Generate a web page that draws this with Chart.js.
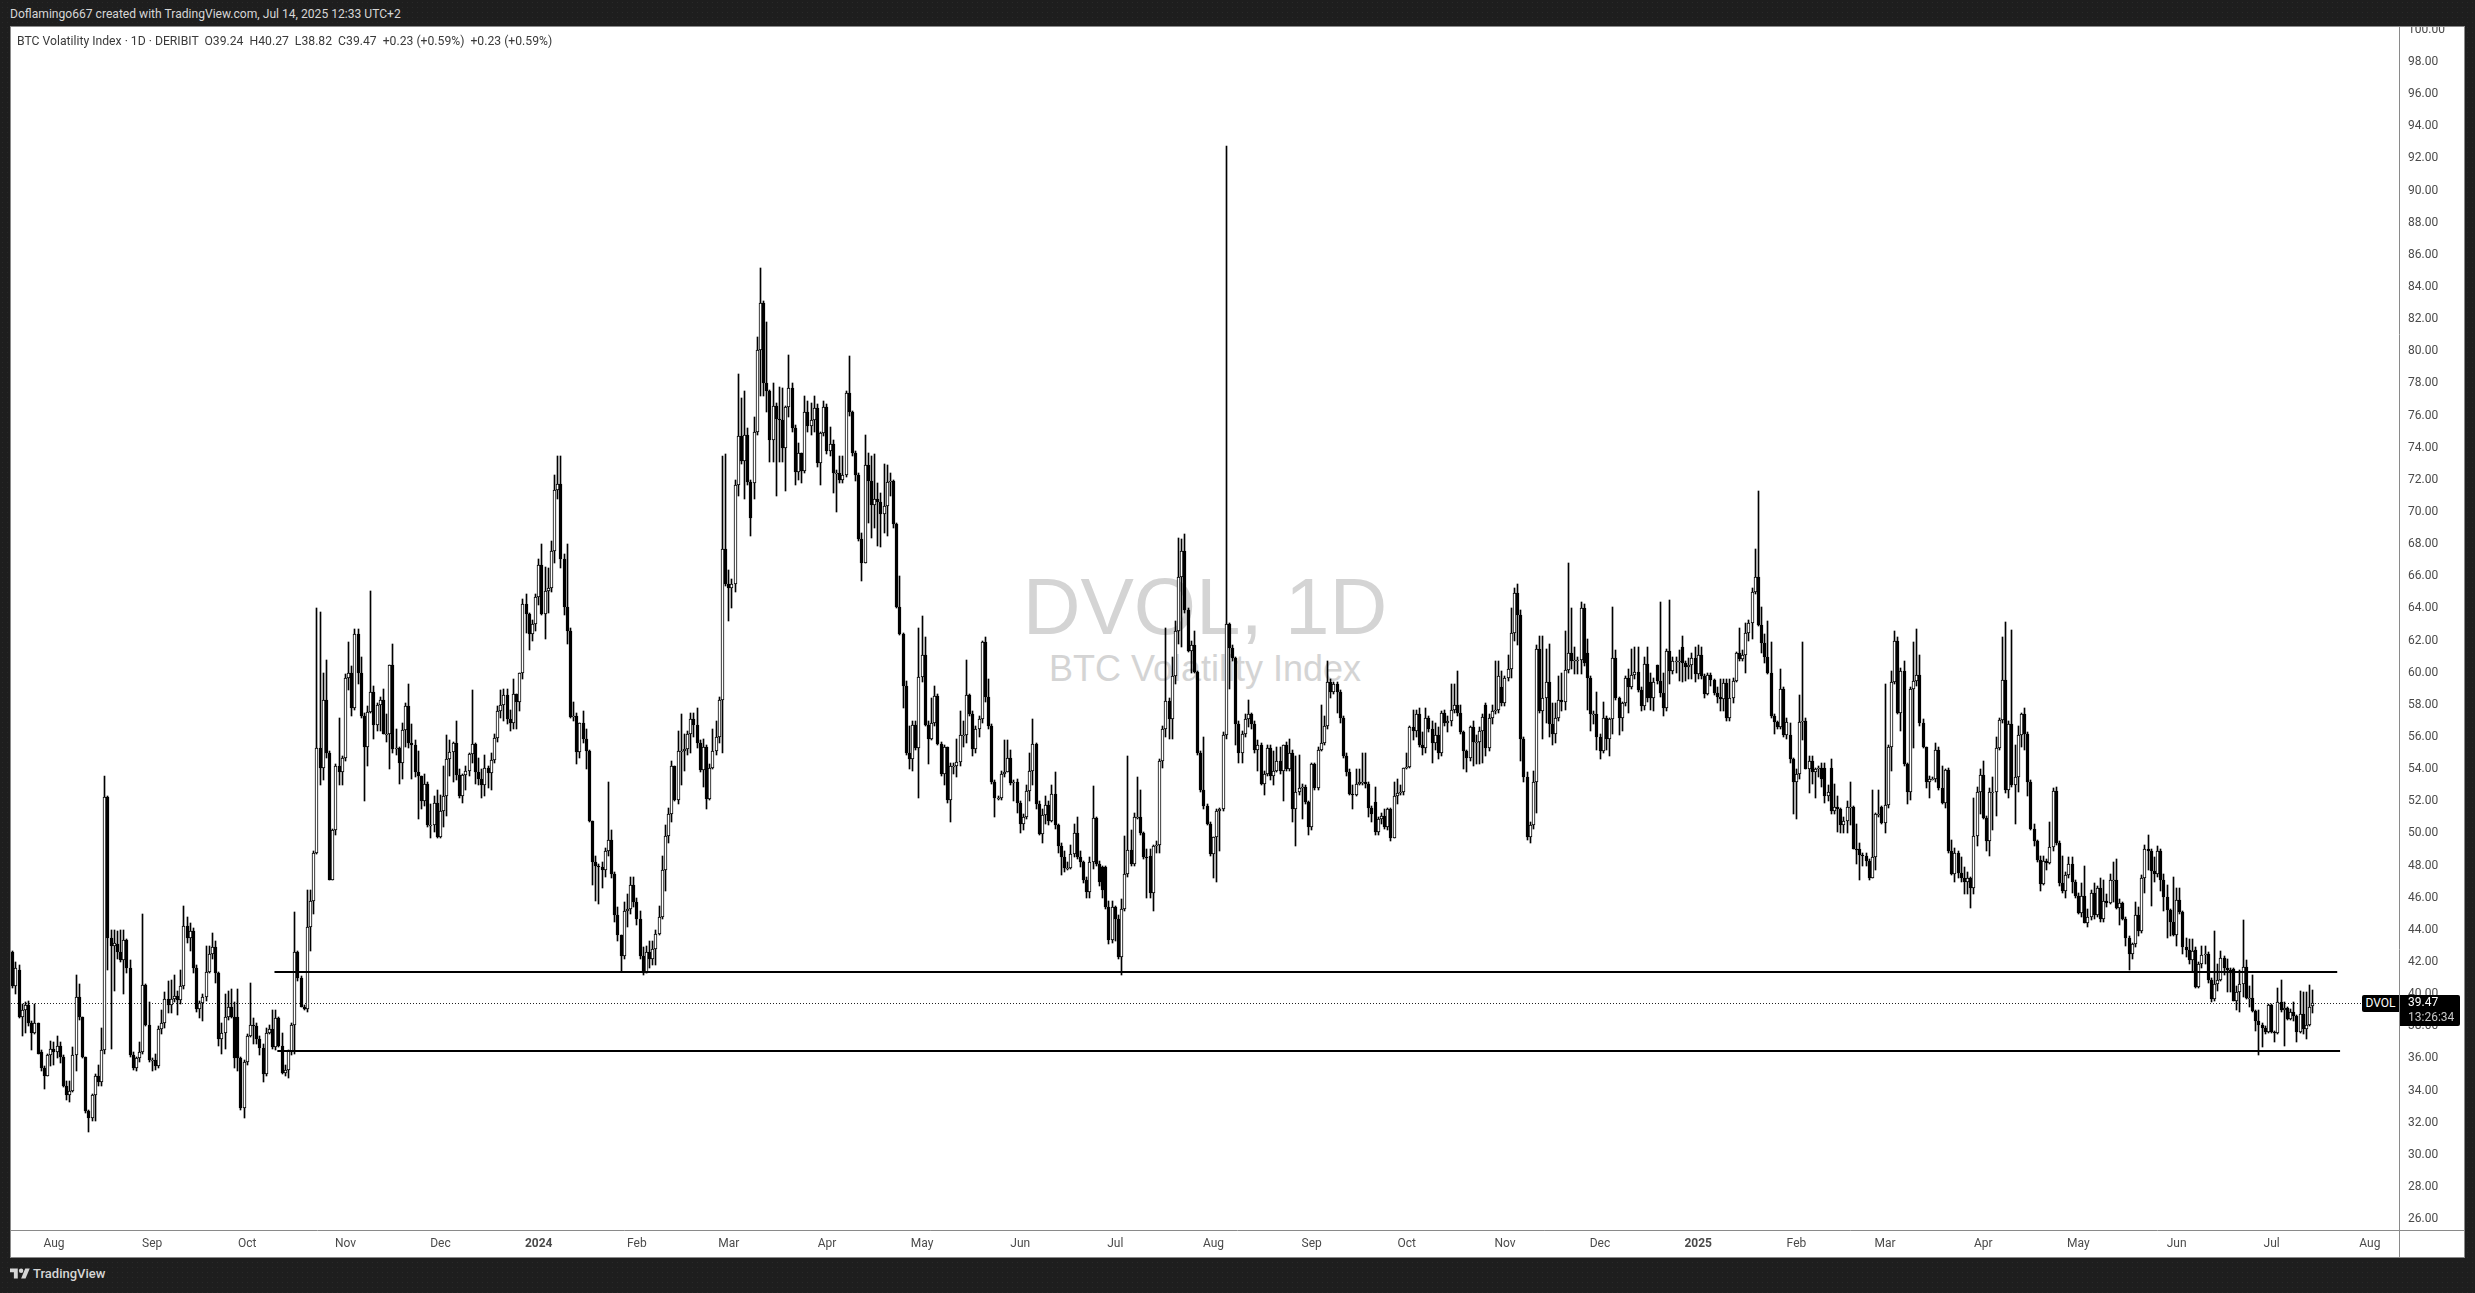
<!DOCTYPE html>
<html>
<head>
<meta charset="utf-8">
<title>BTC Volatility Index</title>
<script src="https://cdn.jsdelivr.net/npm/chart.js@4/dist/chart.umd.min.js"></script>
<style>
  html, body { margin: 0; height: 100%; }
  body {
    width: 2475px; height: 1293px; overflow: hidden; position: relative;
    background-color: #1e1e1e;
    background-image: radial-gradient(circle, #292929 0.6px, transparent 0.7px);
    background-size: 5px 5px;
    font-family: Roboto, sans-serif;
  }
  body > * { position: absolute; }
  #panel { left: 10px; top: 26px; width: 2455px; height: 1232px; box-sizing: border-box; background: #fff; border: 1px solid #8a8a8a; }
  #wm1, #wm2 { left: 11px; width: 2388px; text-align: center; font-family: "Liberation Sans", sans-serif; color: #d4d4d4; white-space: pre; }
  #wm1 { top: 562px; font-size: 80px; line-height: 90px; }
  #wm2 { top: 647px; font-size: 36px; line-height: 44px; }
  #chart { left: 11px; top: 27px; }
  #created { left: 10px; top: 6px; font-size: 12.1px; line-height: 16px; color: #d6d6d6; white-space: pre; }
  #legend { left: 17px; top: 33px; font-size: 12.2px; line-height: 16px; color: #3a3a3a; white-space: pre; }
  #sym { left: 2362px; top: 995px; width: 37px; height: 17px; background: #000; color: #fff; font-size: 12px; line-height: 17px; text-align: center; border-radius: 2px 0 0 2px; }
  #last { left: 2400px; top: 995px; width: 60px; height: 31px; background: #000; border-radius: 0 2px 2px 0; font-size: 12px; color: #fff; line-height: 15px; }
  #last div { padding-left: 8px; }
  #last div + div { color: #c8c8c8; }
  #logo { left: 10px; top: 1266px; width: 20px; height: 16px; fill: #d6d6d6; }
  #brand { left: 33px; top: 1265px; font-size: 13px; font-weight: 500; line-height: 18px; color: #d6d6d6; }
</style>
</head>
<body>
<div id="panel"></div>
<div id="wm1">DVOL, 1D</div>
<div id="wm2">BTC Volatility Index</div>
<canvas id="chart" width="2453" height="1230"></canvas>
<div id="created">Doflamingo667 created with TradingView.com, Jul 14, 2025 12:33 UTC+2</div>
<div id="legend">BTC Volatility Index · 1D · DERIBIT  O39.24  H40.27  L38.82  C39.47  +0.23 (+0.59%)  +0.23 (+0.59%)</div>
<div id="sym">DVOL</div>
<div id="last"><div>39.47</div><div>13:26:34</div></div>
<svg id="logo" viewBox="0 0 36 28"><path d="M14 22H7V11H0V4h14v18z"/><circle cx="20" cy="8" r="4"/><path d="M28 22h-8l7.5-18h8L28 22z"/></svg>
<div id="brand">TradingView</div>

<script>
// daily candles, index 0 = 2023-07-19, last = 2025-07-14
const opens = [
42.6,40.5,41.5,38.6,39.0,39.3,38.2,37.6,38.2,36.4,
35.4,34.9,36.2,36.6,36.4,36.75,36.1,34.3,33.75,33.95,
36.2,39.8,38.6,36.1,32.7,32.3,33.7,34.9,34.5,36.5,
52.25,43.5,43.0,43.1,42.6,42.1,43.35,41.6,36.2,35.4,
36.0,36.4,40.55,38.1,35.9,35.9,35.5,37.8,38.2,39.7,
39.35,39.7,39.9,39.65,40.5,44.25,43.5,43.95,41.65,39.1,
39.45,39.8,41.4,42.5,42.95,41.3,37.2,37.6,38.6,39.2,
38.6,38.6,36.0,32.9,35.8,37.4,38.1,38.0,37.2,36.65,
35.0,37.6,37.8,36.7,38.5,36.8,35.1,35.3,36.45,38.1,
42.6,41.0,39.2,39.1,44.2,45.8,48.8,55.3,54.05,58.3,
55.0,47.1,50.2,54.2,53.85,54.7,59.7,60.0,57.8,62.4,
60.0,57.3,55.4,57.55,58.8,56.75,58.0,58.3,56.2,56.2,
60.45,55.25,55.3,54.35,56.45,57.9,55.65,55.5,53.8,53.55,
52.0,53.1,50.5,50.5,51.9,49.75,51.4,52.3,54.65,55.05,
55.65,53.65,52.35,53.65,53.9,54.95,55.55,53.8,53.4,53.0,
54.1,53.75,54.55,55.95,57.6,58.0,58.6,57.1,56.9,58.65,
58.2,59.95,64.3,63.65,62.4,63.05,64.7,66.7,63.65,65.1,
65.3,67.6,71.35,71.75,67.1,64.1,62.6,57.25,57.3,55.05,
56.85,55.9,55.1,50.75,48.2,48.0,47.9,47.75,48.9,49.6,
47.5,44.9,43.65,42.35,45.15,45.3,46.8,45.7,44.65,42.35,
41.3,42.65,42.2,42.8,43.75,44.8,47.75,49.85,51.2,54.2,
52.1,55.1,55.15,55.25,56.2,57.1,56.75,55.6,53.95,55.4,
52.15,54.1,55.1,56.0,58.3,67.7,65.5,65.3,65.5,71.7,
74.75,73.15,74.8,71.85,71.8,75.0,80.05,83.0,78.05,77.5,
74.5,76.6,75.8,75.75,74.0,76.55,77.7,75.2,72.5,73.65,
72.55,76.2,75.35,75.7,76.5,73.05,74.9,76.55,73.8,74.2,
72.4,72.4,72.0,72.3,77.4,76.2,73.65,72.3,68.35,66.85,
72.9,71.95,70.45,70.8,70.6,69.9,70.35,71.85,71.95,69.25,
64.1,62.4,59.2,55.0,54.6,56.75,55.3,59.75,61.1,56.75,
55.9,56.85,58.55,55.55,53.7,55.35,52.1,54.2,54.2,54.45,
56.1,56.15,58.6,57.4,55.25,56.5,57.1,61.9,58.5,56.7,
53.2,52.2,52.2,53.7,53.85,54.7,53.15,53.2,51.9,50.6,
51.0,52.65,53.9,55.55,51.8,49.95,51.15,51.75,50.8,52.45,
50.5,49.2,48.5,47.85,47.85,48.7,50.0,48.55,48.2,47.1,
46.35,48.2,50.95,48.1,47.9,47.9,45.4,43.35,45.4,44.65,
42.3,45.3,47.45,48.95,48.1,51.0,51.0,50.0,48.55,48.6,
46.3,49.2,49.3,54.5,56.5,58.25,57.1,59.8,62.6,65.95,
67.6,63.9,61.35,61.7,60.05,55.0,52.7,51.7,50.6,48.7,
49.75,51.4,51.5,56.1,63.0,61.55,60.9,56.8,55.0,56.2,
57.1,57.4,56.8,55.2,55.5,53.05,53.7,55.3,53.6,53.9,
54.5,53.9,55.5,54.0,55.0,51.5,52.6,52.8,52.9,51.95,
50.4,54.3,52.85,55.2,55.65,56.7,59.45,58.8,59.3,58.8,
57.2,54.8,53.85,52.45,52.4,53.1,53.2,53.2,53.1,51.55,
51.95,50.1,50.9,51.1,50.4,51.5,49.7,52.3,52.5,52.55,
54.05,54.15,56.6,56.35,57.45,55.5,55.3,57.2,56.5,55.65,
56.1,55.0,57.5,56.85,57.0,57.7,58.0,57.5,56.3,55.1,
54.7,56.6,55.7,55.7,56.4,58.0,55.3,57.2,57.6,57.7,
59.1,58.1,59.7,60.2,62.45,64.95,63.6,55.9,53.5,49.8,
50.5,53.2,61.45,57.6,58.45,59.4,56.8,56.2,57.15,58.3,
58.2,60.15,61.25,60.7,60.8,60.8,64.05,61.2,59.7,57.45,
57.45,56.0,55.1,57.15,55.9,57.1,60.9,58.4,57.15,58.1,
59.7,59.1,59.85,60.05,58.9,57.95,60.55,59.4,58.4,60.45,
59.5,58.75,57.8,61.35,60.1,60.75,60.75,61.6,60.6,60.35,
60.45,60.9,59.9,61.1,59.8,58.65,59.85,59.55,58.75,58.5,
58.35,59.35,57.15,58.45,59.5,61.2,60.85,61.1,62.5,63.1,
65.0,65.95,62.95,61.85,61.0,60.0,57.3,56.95,56.6,59.0,
56.15,56.1,54.6,53.2,53.7,56.95,57.0,54.0,54.5,53.85,
54.0,54.1,54.1,52.35,54.1,51.4,51.65,51.5,50.5,50.75,
51.65,51.65,49.05,49.0,48.65,48.6,48.3,47.2,48.5,51.2,
51.65,50.65,51.75,55.4,59.4,62.0,57.5,60.1,54.3,52.6,
59.0,59.5,59.85,56.85,55.35,53.2,53.4,53.4,55.2,52.8,
51.9,53.95,48.9,47.5,48.8,47.55,47.25,46.95,47.2,46.6,
49.85,52.6,53.65,50.95,49.5,52.55,52.6,55.3,57.05,59.55,
52.7,56.8,53.0,53.5,56.1,57.4,56.2,53.2,50.3,49.5,
48.35,46.85,48.3,48.15,49.15,52.65,49.4,46.9,46.4,47.4,
48.1,47.0,46.1,45.05,46.1,44.45,44.8,46.3,44.9,46.6,
44.7,45.8,45.65,47.1,47.1,45.35,45.65,44.7,43.5,42.5,
43.1,44.9,43.95,47.25,49.05,48.9,47.65,47.45,48.9,47.1,
46.05,45.25,44.5,43.65,45.85,45.1,42.9,42.75,42.1,42.75,
40.45,41.9,42.45,42.5,40.85,39.7,40.65,40.9,42.25,41.65,
41.5,41.55,39.6,40.15,40.6,41.7,39.75,39.75,38.95,38.35,
38.1,37.9,37.65,39.3,37.65,37.55,39.5,39.0,39.15,38.45,
38.9,38.65,37.65,38.75,37.8,38.1,39.24
];
const highs = [
42.7,42.0,41.8,39.4,39.5,39.6,38.3,39.4,38.2,36.5,
35.5,36.3,37.1,37.0,37.4,37.0,36.2,34.6,34.6,36.7,
41.2,40.6,38.6,36.1,32.8,33.8,35.0,35.6,37.9,53.55,
52.3,44.0,44.0,43.9,44.0,44.0,43.4,42.1,36.4,36.1,
37.0,45.0,40.6,39.5,36.0,36.3,38.0,39.0,40.1,40.8,
40.9,41.2,40.2,41.5,45.5,44.8,44.4,44.1,41.8,39.6,
40.0,43.0,43.0,43.8,43.3,41.4,38.2,40.0,40.2,40.3,
39.5,40.3,36.1,35.9,37.5,40.7,38.5,38.2,37.4,36.9,
37.9,38.1,39.0,39.0,38.6,37.6,35.6,36.5,38.2,45.1,
42.7,41.1,39.3,46.5,46.5,48.9,64.0,63.8,59.95,60.8,
55.1,50.3,54.3,57.2,54.8,59.9,61.9,60.4,62.7,62.7,
61.0,57.5,57.9,65.1,59.2,58.1,58.5,59.0,57.4,60.5,
61.8,56.5,55.4,56.9,58.1,59.3,56.8,55.8,55.1,53.6,
53.7,53.2,51.8,52.3,52.7,52.4,54.2,56.1,55.8,55.7,
57.0,54.0,53.7,54.2,55.0,58.9,55.6,54.7,54.0,54.9,
54.2,55.0,56.2,57.9,58.9,59.0,59.0,57.7,59.6,58.7,
60.0,64.6,64.9,63.7,63.3,64.9,67.1,68.0,66.6,66.5,
68.2,72.3,73.5,73.5,67.4,68.0,62.8,58.2,57.5,56.9,
57.6,56.5,55.2,50.8,48.6,48.1,48.2,49.1,53.2,50.2,
47.6,45.4,43.7,45.7,46.2,47.3,47.3,46.0,45.2,42.9,
43.0,43.3,43.3,44.0,45.5,48.6,50.5,51.6,54.5,54.2,
56.4,57.4,56.2,56.4,57.5,57.5,57.8,55.8,55.9,55.5,
54.3,56.5,57.0,58.5,73.5,73.6,66.4,65.8,72.0,78.6,
77.1,77.5,75.2,72.0,75.9,80.9,85.2,83.1,81.8,77.6,
78.0,76.8,77.8,77.7,76.6,79.75,78.0,75.4,74.3,73.7,
77.2,76.9,76.8,77.2,76.7,75.0,76.9,76.7,75.3,74.5,
72.6,73.5,73.5,77.5,79.7,76.3,73.8,72.4,68.7,74.8,
73.7,73.5,73.6,71.8,71.2,73.0,72.9,72.4,72.0,69.3,
66.0,62.5,59.5,56.7,57.0,57.0,62.8,63.5,62.2,57.0,
58.4,59.2,58.7,55.7,55.5,55.4,54.4,54.4,55.9,57.6,
57.0,60.8,58.7,57.6,56.7,57.3,62.0,62.2,59.6,56.8,
53.3,52.3,53.9,55.8,55.8,55.2,53.3,53.4,52.0,51.2,
53.0,55.0,57.1,55.6,52.0,51.5,52.3,52.0,53.0,53.8,
50.6,49.4,48.9,48.2,49.3,50.6,51.0,48.9,48.3,47.3,
48.5,52.95,51.0,48.3,48.0,48.0,45.8,45.8,45.5,44.9,
45.9,49.85,54.8,50.2,51.3,53.5,52.7,50.1,49.0,49.0,
49.3,49.5,54.6,56.7,62.8,58.4,61.0,63.2,68.4,68.3,
68.6,64.0,62.0,62.6,60.1,55.1,56.0,51.8,50.7,49.8,
51.5,51.6,56.3,92.77,63.1,61.7,61.0,57.0,56.4,57.4,
58.3,57.5,57.0,55.8,55.6,53.9,55.5,55.5,55.1,55.4,
55.4,55.5,55.7,55.9,55.2,54.8,54.9,53.1,53.0,52.0,
54.4,54.4,55.4,58.0,57.3,60.7,59.6,59.4,59.4,58.9,
57.3,55.0,54.0,53.0,54.0,54.0,55.0,55.0,53.2,51.7,
52.9,51.0,51.3,51.5,51.6,51.6,53.2,53.4,53.0,54.1,
55.0,56.7,57.7,57.7,57.8,56.3,57.8,57.3,57.0,56.9,
56.6,57.6,57.7,57.3,59.3,59.3,60.1,58.0,56.4,55.2,
56.7,57.0,56.1,56.6,57.4,58.1,57.4,58.0,60.7,60.7,
60.1,59.8,61.1,64.0,65.3,65.5,63.9,56.0,53.8,50.7,
53.9,61.7,62.3,62.3,61.5,61.8,58.1,58.1,59.8,60.0,
62.6,66.8,64.0,61.6,61.0,64.4,64.3,62.1,59.8,57.6,
58.8,56.2,58.2,57.3,57.2,64.1,61.4,58.5,58.2,59.8,
60.2,61.5,61.6,61.6,59.1,61.0,61.6,60.0,59.7,60.5,
64.4,60.0,61.5,64.55,61.0,61.0,61.4,62.3,60.7,60.9,
61.2,61.6,61.7,61.6,59.9,60.0,60.0,59.6,59.1,59.6,
59.6,59.6,59.6,59.7,61.3,62.8,61.4,63.1,63.3,65.3,
67.7,71.3,64.1,62.4,63.2,61.9,57.4,57.0,60.2,59.1,
57.2,56.9,54.7,54.0,58.6,61.9,57.2,54.8,54.8,54.1,
54.2,54.4,54.4,53.0,54.6,53.1,52.3,51.6,51.0,52.0,
53.2,51.7,50.6,49.4,48.8,48.8,48.4,52.7,51.3,52.7,
51.7,59.3,55.5,60.1,62.6,62.2,60.3,60.7,54.4,59.1,
61.9,62.7,61.1,57.1,55.4,53.6,53.5,55.6,55.4,54.2,
54.0,54.1,49.6,49.1,48.9,48.5,47.9,47.6,47.3,52.2,
52.9,54.0,54.5,51.1,52.8,53.5,56.0,57.2,62.2,63.15,
57.0,62.65,55.5,56.7,57.5,57.8,56.3,53.3,50.6,49.6,
48.6,48.6,48.4,50.7,52.8,52.9,49.5,48.6,47.6,48.5,
48.5,47.1,46.3,46.9,48.0,45.3,46.5,46.9,46.7,47.2,
47.1,46.2,47.5,48.2,48.4,45.9,45.7,44.8,43.6,43.2,
45.7,45.4,47.4,49.3,49.9,49.0,48.5,49.2,49.0,47.5,
46.8,45.3,47.3,46.6,46.6,45.2,43.5,43.4,43.4,42.9,
42.0,43.0,43.0,42.6,41.0,43.9,41.9,42.7,42.4,42.2,
41.6,41.6,40.5,41.5,44.6,42.1,40.5,41.2,39.0,39.0,
38.2,38.0,39.4,39.4,37.7,40.4,40.85,39.5,39.2,39.1,
39.5,38.7,40.2,40.1,40.1,40.55,40.27
];
const lows = [
40.4,40.0,38.5,37.4,37.6,38.0,36.5,37.5,36.3,35.2,
34.1,34.9,35.5,35.6,36.0,35.7,34.2,33.4,33.3,33.9,
35.2,38.4,36.0,32.6,31.4,32.1,32.1,34.3,34.3,36.3,
41.5,36.6,40.2,42.2,42.0,40.0,41.3,36.1,35.3,35.2,
35.8,36.3,38.0,35.8,35.2,35.3,35.4,37.5,37.9,38.8,
38.8,39.5,38.7,39.4,40.3,43.2,42.7,41.3,38.9,38.5,
38.3,39.6,41.3,42.2,40.7,36.8,36.3,36.6,38.4,38.5,
35.4,35.2,32.8,32.3,35.6,37.3,36.9,36.9,36.2,34.5,
34.9,37.5,36.6,36.5,36.7,35.0,34.9,34.8,36.2,36.3,
40.8,39.2,39.0,38.9,42.7,45.0,48.7,53.0,53.3,54.7,
47.1,47.1,49.9,53.0,53.0,54.5,58.9,57.3,57.7,59.3,
57.2,52.0,54.2,57.5,55.9,56.4,56.4,56.2,55.7,54.0,
55.0,54.9,53.1,53.4,55.4,55.3,53.4,53.5,50.9,51.5,
51.7,50.4,49.7,50.1,49.7,49.7,50.4,51.1,53.6,53.2,
53.3,52.2,51.9,52.7,53.6,54.4,53.1,53.0,52.2,52.3,
52.8,52.7,54.4,55.7,57.2,57.0,56.8,56.4,56.5,56.5,
57.6,59.6,62.5,61.4,62.0,62.6,64.2,63.6,62.1,63.7,
65.0,66.8,70.8,66.5,63.6,61.8,57.2,57.0,54.3,54.7,
55.6,54.0,50.7,46.8,45.8,45.6,46.6,47.3,48.6,47.2,
44.5,43.3,41.4,42.2,44.2,45.0,45.4,44.3,42.2,41.2,
41.3,41.6,41.8,41.8,43.7,44.7,46.4,49.4,50.7,52.0,
51.8,53.0,53.9,54.9,55.0,56.0,55.3,53.8,52.9,51.5,
52.1,54.0,54.9,55.6,55.0,65.4,63.2,64.0,65.0,71.0,
73.0,70.8,71.7,68.5,70.8,74.8,77.2,77.2,76.2,73.1,
73.1,71.0,73.1,73.1,71.3,75.9,75.0,71.7,72.0,71.8,
72.4,75.0,74.8,75.0,72.8,71.7,74.7,73.6,73.5,71.2,
70.0,71.8,71.8,72.2,76.0,73.5,71.9,68.2,65.7,66.8,
69.3,68.4,69.0,67.9,67.8,68.7,68.5,71.0,69.0,64.0,
62.35,57.8,54.9,54.0,53.9,55.2,52.2,59.4,56.7,54.3,
55.8,56.7,55.5,53.6,53.0,51.9,50.7,53.7,53.5,54.2,
55.4,55.6,57.3,54.8,55.0,56.0,56.9,58.2,56.5,53.1,
51.0,52.1,52.1,53.5,53.8,53.0,52.0,51.3,50.0,50.2,
50.9,52.0,53.0,51.5,49.9,49.4,50.6,50.5,50.7,50.3,
48.8,47.4,47.6,47.7,47.8,48.5,48.4,47.9,46.9,46.0,
46.0,47.8,48.0,46.7,46.0,45.3,43.1,43.2,43.3,42.2,
41.2,45.2,47.3,48.0,48.0,50.9,49.9,48.4,46.0,46.0,
45.2,48.8,48.8,54.1,56.0,55.9,55.9,59.3,61.8,61.6,
63.7,61.3,60.0,60.0,54.9,52.6,51.5,50.5,48.6,47.2,
47.0,48.9,51.4,55.9,59.0,60.7,55.5,54.4,54.4,56.0,
56.6,56.5,55.0,53.9,53.0,52.4,53.6,53.3,53.0,53.8,
53.7,52.0,53.9,53.9,50.7,49.2,52.4,50.9,51.8,49.9,
50.2,52.7,52.7,55.1,55.5,56.5,58.4,58.7,57.5,56.9,
54.7,53.6,52.4,51.5,52.3,53.0,53.0,52.8,51.0,50.7,
49.9,49.9,50.6,50.3,50.2,49.5,49.7,51.8,52.4,52.4,
54.0,54.1,55.8,56.0,55.4,54.9,55.0,56.3,54.4,55.2,
54.6,54.8,56.7,56.3,56.7,57.5,57.3,56.2,54.0,53.8,
54.5,54.2,54.3,54.3,54.4,54.8,55.1,56.8,57.4,57.5,
57.9,57.9,59.5,59.7,62.0,61.7,54.5,53.2,49.6,49.4,
50.3,51.3,57.5,55.9,56.9,56.0,55.5,55.6,57.0,57.6,
57.7,60.0,60.2,59.9,59.9,59.9,60.4,57.7,56.4,56.8,
55.2,54.6,55.0,55.2,54.8,56.2,58.3,56.1,56.4,57.9,
57.5,59.0,59.6,58.8,57.6,57.7,58.2,57.7,57.6,59.3,
58.5,57.3,57.6,59.3,59.9,60.0,59.5,59.4,59.5,59.6,
59.6,59.4,59.6,59.6,58.4,58.6,59.2,58.6,58.1,57.6,
57.6,57.0,57.0,58.1,59.4,60.7,60.7,60.0,62.0,62.1,
64.9,62.9,61.2,60.6,59.9,57.2,56.2,56.5,56.5,56.0,
55.9,54.4,51.2,50.9,53.4,55.8,54.0,52.5,53.1,52.2,
53.5,52.9,51.9,52.0,51.2,51.2,50.1,50.0,50.0,50.0,
50.5,49.0,48.1,47.1,48.0,48.0,47.1,47.2,47.7,51.0,
50.6,50.0,51.6,53.9,59.3,57.4,56.4,54.2,51.8,52.1,
55.3,59.2,56.7,55.3,52.8,52.2,53.3,53.2,52.7,51.8,
51.6,48.8,47.4,47.0,47.2,47.0,46.2,46.2,45.35,46.2,
49.2,51.2,50.9,48.9,48.6,50.2,51.1,55.2,56.9,52.5,
52.2,52.9,50.6,52.6,55.4,55.2,52.3,50.2,49.2,48.2,
46.4,46.8,47.7,48.1,48.9,49.3,46.7,46.3,46.0,47.2,
46.3,46.0,45.0,44.8,44.4,44.2,44.6,44.7,44.8,44.5,
44.5,45.4,45.6,45.7,45.3,44.3,44.6,43.0,41.5,42.2,
42.9,43.6,43.8,46.3,47.7,45.5,47.0,47.3,46.4,45.2,
43.5,43.6,43.6,43.0,45.0,42.5,42.3,41.9,41.4,40.4,
40.4,41.6,41.9,40.7,39.5,39.6,40.2,40.8,41.2,40.1,
40.1,39.55,39.0,38.9,39.8,39.7,39.2,38.9,37.7,36.2,
36.7,37.5,37.6,37.6,37.0,37.5,38.9,36.8,38.4,38.4,
38.3,37.0,37.6,37.5,37.2,38.0,38.82
];
const closes = [
40.5,41.6,38.6,39.0,39.3,38.2,37.6,38.2,36.3,35.4,
34.9,36.2,36.6,36.4,36.75,36.1,34.3,33.75,33.95,36.2,
39.8,38.6,36.1,32.7,32.3,33.7,34.9,34.5,36.5,52.25,
43.5,43.0,43.15,42.6,42.1,43.35,41.6,36.2,35.4,36.0,
36.4,40.55,38.1,35.9,35.9,35.5,37.8,38.2,39.7,39.35,
39.7,39.9,39.65,40.5,44.25,43.5,43.95,41.65,39.1,39.45,
39.8,41.4,42.5,42.95,41.3,37.2,37.6,38.6,39.2,38.6,
36.0,36.0,32.9,35.8,37.4,38.1,38.0,37.2,36.65,35.0,
37.6,37.8,36.7,38.5,36.8,35.1,35.3,36.45,38.1,42.6,
41.0,39.2,39.1,44.2,45.8,48.8,55.3,54.05,58.3,55.0,
47.1,50.2,54.2,53.85,54.7,59.7,60.0,57.8,62.4,60.0,
57.3,55.4,57.55,58.8,56.75,58.0,58.3,56.2,56.2,60.45,
55.25,55.3,54.35,56.45,57.9,55.65,55.5,53.8,53.55,52.0,
53.1,50.5,50.5,51.9,49.75,51.4,52.3,54.65,55.05,55.65,
53.65,52.35,53.65,53.9,54.95,55.55,53.8,53.4,53.0,54.1,
53.75,54.55,55.95,57.6,58.0,58.6,57.1,56.9,58.65,58.2,
59.95,64.3,63.65,62.4,63.05,64.7,66.7,63.65,65.1,65.3,
67.6,71.35,71.75,67.1,64.1,62.6,57.25,57.3,55.05,56.85,
55.9,55.1,50.75,48.2,48.0,47.9,47.75,48.9,49.6,47.5,
44.9,43.65,42.35,45.15,45.3,46.8,45.7,44.65,42.35,41.3,
42.65,42.2,42.8,43.75,44.8,47.75,49.85,51.2,54.2,52.1,
55.1,55.15,55.25,56.2,57.1,56.75,55.6,53.95,55.4,52.15,
54.1,55.1,56.0,58.3,67.7,65.5,65.3,65.5,71.7,74.75,
73.15,74.8,71.85,69.65,75.0,80.05,83.0,78.05,77.5,74.5,
76.6,75.8,75.75,74.0,76.55,77.7,75.2,72.5,73.65,72.55,
76.2,75.35,75.7,76.5,73.05,74.9,76.55,73.8,74.2,72.4,
72.4,72.0,72.3,77.4,76.2,73.65,72.3,68.35,66.85,72.9,
71.95,70.45,70.8,70.6,69.9,70.35,71.85,71.95,69.25,64.1,
62.4,59.2,55.0,54.6,56.75,55.3,59.75,61.1,56.75,55.9,
56.85,58.55,55.55,53.7,55.35,52.1,54.2,54.2,54.45,56.1,
56.15,58.6,57.4,55.25,56.5,57.1,61.9,58.5,56.7,53.2,
52.2,52.2,53.7,53.85,54.7,53.15,53.2,51.9,50.6,51.0,
52.65,53.9,55.55,51.8,49.95,51.15,51.75,50.8,52.45,50.5,
49.2,48.5,47.85,47.85,48.7,50.0,48.55,48.2,47.1,46.35,
48.2,50.95,48.1,47.0,46.5,45.4,43.35,45.4,44.65,42.3,
45.3,47.45,48.95,48.1,51.0,51.0,50.0,48.55,48.5,46.3,
49.2,49.3,54.5,56.5,58.25,57.1,59.8,62.6,65.95,67.6,
63.9,61.35,61.7,60.05,55.0,52.7,51.7,50.6,48.7,49.75,
51.4,51.5,56.1,63.0,61.55,60.9,56.8,55.0,56.2,57.1,
57.4,56.8,55.2,55.5,53.05,53.7,55.3,53.6,53.9,54.5,
53.9,55.5,54.0,55.0,51.5,52.6,52.8,52.9,51.95,50.4,
54.3,52.85,55.2,55.65,56.7,59.45,58.8,59.3,58.8,57.2,
54.8,53.85,52.45,52.4,53.1,53.2,53.2,53.1,51.55,51.2,
50.1,50.9,51.1,50.4,51.5,49.7,52.3,52.5,52.55,54.05,
54.15,56.6,56.35,57.45,55.5,55.3,57.2,56.5,55.65,56.1,
55.0,57.5,56.85,57.0,57.7,58.0,57.5,56.3,55.1,54.7,
56.6,55.7,55.7,56.4,57.25,55.3,57.2,57.6,57.7,59.8,
58.1,59.7,60.2,62.45,64.95,63.6,55.9,53.5,49.8,50.5,
53.2,61.45,57.6,58.45,59.4,56.8,56.2,57.15,58.3,58.2,
60.15,61.25,60.7,60.8,60.8,64.05,60.6,59.7,57.45,57.45,
56.0,55.1,57.15,55.9,57.1,60.9,58.4,57.15,58.1,59.7,
59.1,59.85,60.05,58.9,57.95,60.55,58.4,58.4,59.45,59.5,
58.75,57.8,61.35,60.1,60.75,60.75,60.75,60.6,60.35,60.45,
60.9,59.9,61.1,59.8,58.65,59.85,59.55,58.75,58.5,58.35,
59.35,57.15,58.45,59.5,61.2,60.85,61.1,62.5,63.1,65.0,
65.95,62.95,61.85,61.0,60.0,57.3,56.95,56.6,59.0,56.15,
56.95,54.6,53.2,53.7,56.95,57.0,54.0,54.5,53.85,54.0,
54.1,53.4,52.35,52.6,51.4,51.65,51.5,50.5,50.75,51.65,
51.65,49.05,49.0,48.65,48.6,48.3,47.2,48.5,51.2,51.2,
50.65,51.75,55.4,59.4,62.0,57.5,60.1,54.3,52.6,59.0,
59.5,59.85,56.85,55.35,53.2,53.4,53.4,55.2,52.8,51.9,
53.95,48.9,47.5,48.8,47.55,47.25,46.95,47.2,46.6,49.85,
52.6,53.65,50.95,49.5,52.55,52.6,55.3,57.05,59.55,52.7,
56.8,53.0,53.5,56.1,57.4,56.2,53.2,50.3,49.5,48.35,
46.85,48.3,48.15,49.15,52.65,49.4,46.9,46.4,47.4,48.1,
47.0,46.1,45.05,46.1,44.45,44.8,46.3,44.9,46.6,44.7,
45.8,45.65,47.1,47.1,45.35,45.65,44.7,43.5,42.5,43.1,
44.9,43.95,47.25,49.05,48.9,47.65,47.45,48.9,47.1,46.05,
45.25,44.5,43.65,45.85,45.1,42.9,42.75,42.1,42.7,40.45,
41.9,42.45,42.5,40.85,39.7,40.65,40.9,42.25,41.65,41.5,
41.3,39.6,40.15,40.6,41.7,39.75,39.75,38.95,38.35,38.1,
37.9,37.65,39.3,37.65,37.55,39.5,39.0,39.15,38.45,38.9,
38.65,37.65,38.75,37.8,38.1,39.2,39.47
];

if (![highs, lows, closes].every(a => a.length === opens.length)) {
  throw new Error('length mismatch ' + [opens.length, highs.length, lows.length, closes.length]);
}

const monthTicks = [13, 44, 74, 105, 135, 166, 197, 226, 257, 287, 318, 348, 379, 410, 440, 471, 501, 532, 563, 591, 622, 652, 683, 713, 744];
const monthLabels = ['Aug', 'Sep', 'Oct', 'Nov', 'Dec', '2024', 'Feb', 'Mar', 'Apr', 'May', 'Jun', 'Jul', 'Aug', 'Sep', 'Oct', 'Nov', 'Dec', '2025', 'Feb', 'Mar', 'Apr', 'May', 'Jun', 'Jul', 'Aug'];
const priceTicks = [26, 28, 30, 32, 34, 36, 38, 40, 42, 44, 46, 48, 50, 52, 54, 56, 58, 60, 62, 64, 66, 68, 70, 72, 74, 76, 78, 80, 82, 84, 86, 88, 90, 92, 94, 96, 98, 100];

const lastPrice = 39.47;
const upperLevel = 41.38;
const lowerLevel = 36.46;
const upperLevelRange = [82.6, 733.7];
const lowerLevelRange = [83.5, 734.6];

const xMin = -0.568;
const xMax = 753.2;

// keeps candles crisp, bars otherwise land on fractions of a pixel
const snapToPixels = {
  id: 'snapToPixels',
  afterDatasetsUpdate(chart) {
    chart.getSortedVisibleDatasetMetas().forEach(meta => {
      meta.data.forEach(el => {
        if (meta.type === 'bar') {
          el.x = Math.floor(el.x) + 0.5;
          el.y = Math.round(el.y);
          el.base = Math.round(el.base);
          if (el.y === el.base) el.base = el.y + 1;
        } else {
          const odd = chart.data.datasets[meta.index].borderWidth % 2;
          el.y = Math.round(el.y) + (odd ? 0.5 : 0);
        }
      });
    });
  }
};

const axisFrame = {
  id: 'axisFrame',
  afterDraw(chart) {
    const { ctx, chartArea, width, height } = chart;
    ctx.save();
    ctx.strokeStyle = '#8a8a8a';
    ctx.lineWidth = 1;
    ctx.beginPath();
    ctx.moveTo(chartArea.right + 0.5, 0);
    ctx.lineTo(chartArea.right + 0.5, height);
    ctx.moveTo(0, chartArea.bottom + 0.5);
    ctx.lineTo(width, chartArea.bottom + 0.5);
    ctx.stroke();
    ctx.restore();
  }
};

const tickFont = { family: 'Roboto', size: 12 };
const yearFont = { family: 'Roboto', size: 12, weight: 'bold' };

new Chart(document.getElementById('chart'), {
  type: 'bar',
  plugins: [snapToPixels, axisFrame],
  data: {
    datasets: [
      {
        type: 'line',
        order: 0,
        data: [{ x: upperLevelRange[0], y: upperLevel }, { x: upperLevelRange[1], y: upperLevel }],
        borderColor: '#000',
        borderWidth: 2,
        pointRadius: 0
      },
      {
        type: 'line',
        order: 0,
        data: [{ x: lowerLevelRange[0], y: lowerLevel }, { x: lowerLevelRange[1], y: lowerLevel }],
        borderColor: '#000',
        borderWidth: 2,
        pointRadius: 0
      },
      {
        order: 1,
        data: closes.map((c, i) => ({ x: i, y: [opens[i], c] })),
        backgroundColor: closes.map((c, i) => (c >= opens[i] ? '#fff' : '#000')),
        borderColor: '#000',
        borderWidth: 1,
        borderSkipped: false,
        barThickness: 3,
        barPercentage: 1,
        categoryPercentage: 1,
        grouped: false
      },
      {
        order: 2,
        data: closes.map((c, i) => ({ x: i, y: [lows[i], highs[i]] })),
        backgroundColor: '#000',
        borderWidth: 0,
        barThickness: 1,
        barPercentage: 1,
        categoryPercentage: 1,
        grouped: false
      },
      {
        type: 'line',
        order: 3,
        data: [{ x: xMin, y: lastPrice }, { x: xMax, y: lastPrice }],
        borderColor: '#222',
        borderWidth: 1,
        borderDash: [1, 2],
        pointRadius: 0
      }
    ]
  },
  options: {
    responsive: false,
    animation: false,
    events: [],
    layout: { autoPadding: false, padding: 0 },
    plugins: { legend: { display: false }, tooltip: { enabled: false } },
    scales: {
      x: {
        type: 'linear',
        offset: false,
        min: xMin,
        max: xMax,
        grid: { display: false, drawTicks: false },
        border: { display: false },
        afterBuildTicks: scale => { scale.ticks = monthTicks.map(value => ({ value })); },
        afterFit: scale => { scale.height = 27; },
        ticks: {
          autoSkip: false,
          maxRotation: 0,
          padding: 7,
          color: '#4a4a4a',
          font: ctx => (monthLabels[ctx.index] && monthLabels[ctx.index].length === 4 ? yearFont : tickFont),
          callback: (value, index) => monthLabels[index]
        }
      },
      y: {
        position: 'right',
        min: 25.32,
        max: 100.18,
        grid: { display: false, drawTicks: false },
        border: { display: false },
        afterBuildTicks: scale => { scale.ticks = priceTicks.map(value => ({ value })); },
        // tick padding would otherwise push the plot top down
        afterFit: scale => { scale.width = 65; scale.paddingTop = 0; scale.paddingBottom = 0; },
        ticks: {
          autoSkip: false,
          padding: 9,
          color: '#4a4a4a',
          font: tickFont,
          callback: value => value.toFixed(2)
        }
      }
    }
  }
});
</script>
</body>
</html>
